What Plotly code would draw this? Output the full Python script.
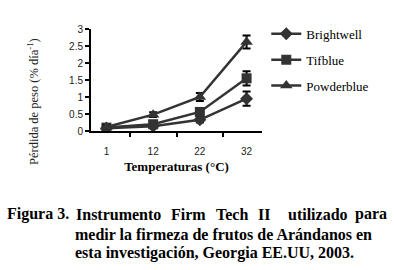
import plotly.graph_objects as go

temps = ["1", "12", "22", "32"]
brightwell = [0.08, 0.14, 0.33, 0.95]
brightwell_err = [0.04, 0.04, 0.08, 0.21]
tifblue = [0.10, 0.20, 0.56, 1.55]
tifblue_err = [0.04, 0.05, 0.10, 0.21]
powderblue = [0.12, 0.48, 1.00, 2.62]
powderblue_err = [0.04, 0.07, 0.12, 0.19]

series = [
    ("Brightwell", brightwell, brightwell_err, "diamond", 10),
    ("Tifblue", tifblue, tifblue_err, "square", 10),
    ("Powderblue", powderblue, powderblue_err, "triangle-up", 11),
]

fig = go.Figure()
for i, (name, vals, err, sym, sz) in enumerate(series):
    fig.add_trace(go.Scatter(
        x=temps, y=vals, name=name, mode="lines+markers",
        line=dict(color="#333333", width=2.5),
        marker=dict(symbol=sym, size=sz, color="#333333"),
        error_y=dict(type="data", array=err, visible=True, color="#000000",
                     thickness=2, width=4),
        legendgroup=f"g{i}",
    ))

serif = "Liberation Serif, Times New Roman, serif"
sans = "Liberation Sans, Arial, sans-serif"

fig.update_layout(
    width=394, height=270,
    margin=dict(l=91, r=132, t=29, b=139),
    paper_bgcolor="white", plot_bgcolor="white",
    showlegend=True,
    legend=dict(x=1.025, y=1.1, xanchor="left", yanchor="top",
                font=dict(family=serif, size=13, color="#000"),
                traceorder="grouped", tracegroupgap=6,
                bgcolor="rgba(0,0,0,0)", itemwidth=30),
    xaxis=dict(type="category", tickson="boundaries", ticks="outside",
               ticklen=4, tickwidth=1.5, tickcolor="#000",
               showline=True, linecolor="#000", linewidth=2,
               ticklabelstandoff=10,
               showgrid=False, tickfont=dict(family=sans, size=10, color="#222"),
               title=dict(text="<b>Temperaturas (°C)</b>",
                          font=dict(family=serif, size=13, color="#000"),
                          standoff=6)),
    yaxis=dict(range=[0, 3], dtick=0.5, ticks="outside", ticklen=4,
               tickwidth=1.5, tickcolor="#000", showline=True,
               linecolor="#000", linewidth=2, showgrid=False, zeroline=False,
               tickfont=dict(family=sans, size=10, color="#222")),
)

fig.add_annotation(text="Pérdida de peso (% día<sup>-1</sup>)", textangle=-90,
                   xref="paper", yref="paper", x=(33 - 91) / 171, y=(131 - 102) / 102,
                   xanchor="center", yanchor="middle",
                   showarrow=False, font=dict(family=serif, size=12.5, color="#222"))

cap_font = dict(family=serif, size=16, color="#000")
fig.add_annotation(text="<b>Figura 3.</b>", xref="paper", yref="paper",
                   x=(5 - 91) / 171, y=(131 - 214) / 102, xanchor="left",
                   yanchor="middle", showarrow=False, font=cap_font)
words1 = [("Instrumento", 74, "left"), ("Firm", 188, "center"), ("Tech", 232, "center"),
          ("II", 264, "center"), ("utilizado", 317.5, "center"), ("para", 389, "right")]
for w, xp, anc in words1:
    fig.add_annotation(text=f"<b>{w}</b>", xref="paper", yref="paper",
                       x=(xp - 91) / 171, y=(131 - 214) / 102, xanchor=anc,
                       yanchor="middle", showarrow=False, font=cap_font)
for txt, yp in [("medir la firmeza de frutos de Arándanos en", 234),
                ("esta investigación, Georgia EE.UU, 2003.", 253)]:
    fig.add_annotation(text=f"<b>{txt}</b>", xref="paper", yref="paper",
                       x=(73 - 91) / 171, y=(131 - yp) / 102, xanchor="left",
                       yanchor="middle", showarrow=False, font=cap_font)

fig.write_html("out.html", config={"displayModeBar": False},
               post_script="document.body.style.margin='0px';")
